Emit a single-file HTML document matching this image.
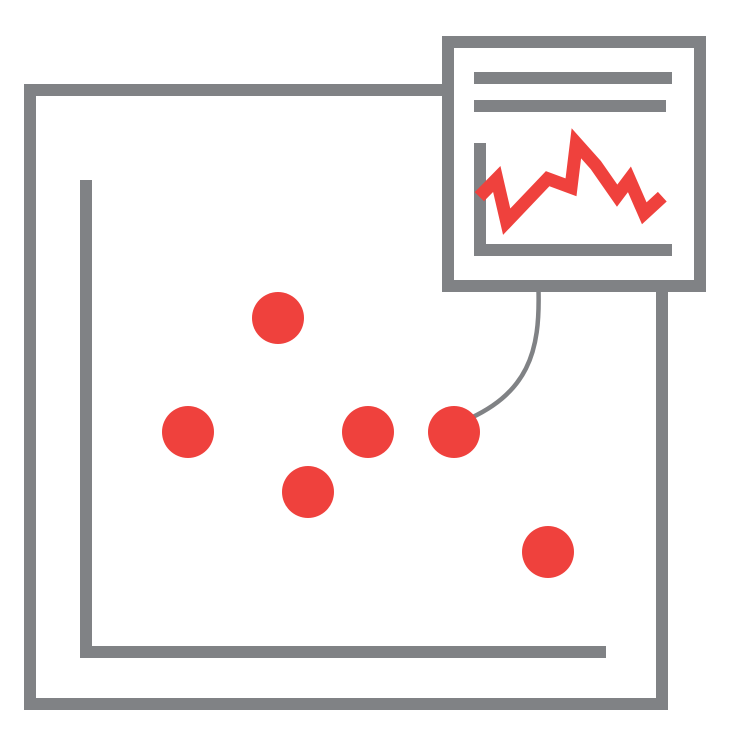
<!DOCTYPE html>
<html lang="en">
<head>
<meta charset="utf-8">
<title>Scatter plot with inset line chart icon</title>
<style>
  html, body { margin: 0; padding: 0; background: #ffffff; }
  body { width: 752px; height: 738px; overflow: hidden; }
  svg { display: block; }
</style>
</head>
<body>
<svg id="chart" xmlns="http://www.w3.org/2000/svg" width="752" height="738" viewBox="0 0 752 738">
  <rect x="30" y="90" width="632" height="614" fill="#ffffff" stroke="#808285" stroke-width="12"/>
  <path d="M86 180V652H606" fill="none" stroke="#808285" stroke-width="12"/>
  <path id="connector" fill="none" stroke="#808285" stroke-width="4.5"/>
  <g id="scatter-points"></g>
  <rect x="448" y="42" width="252" height="244" fill="#ffffff" stroke="#808285" stroke-width="12"/>
  <rect x="474" y="72" width="198" height="12" fill="#808285"/>
  <rect x="474" y="100" width="192" height="12" fill="#808285"/>
  <path d="M480 143V250H672" fill="none" stroke="#808285" stroke-width="12"/>
  <polyline id="inset-line" fill="none" stroke="#ef413d" stroke-width="13" stroke-linejoin="miter" stroke-miterlimit="10"/>
</svg>
<script>
const scatterX = [37.2, 19.2, 55.2, 72.4, 43.2, 91.2];
const scatterY = [65.6, 42.8, 42.8, 42.8, 30.8, 18.8];
const insetX = [2.7, 11.5, 16.5, 37.2, 49, 51.7, 61.5, 72.3, 78.5, 86, 95.1];
const insetY = [53.3, 71, 28.3, 71.3, 62.7, 106.7, 85, 54.3, 70.7, 36.7, 53.3];
const highlightedPoint = 3;

function scatterScaleX(v) { return 92 + v * 5; }
function scatterScaleY(v) { return 646 - v * 5; }
function insetScaleX(v) { return 474 + v * 1.98; }
function insetScaleY(v) { return 250 - v; }

const NS = 'http://www.w3.org/2000/svg';
const pointsGroup = document.getElementById('scatter-points');
scatterX.forEach(function (v, i) {
  const c = document.createElementNS(NS, 'circle');
  c.setAttribute('cx', scatterScaleX(v));
  c.setAttribute('cy', scatterScaleY(scatterY[i]));
  c.setAttribute('r', 26);
  c.setAttribute('fill', '#ef413d');
  
  
  pointsGroup.appendChild(c);
});

const hx = scatterScaleX(scatterX[highlightedPoint]);
const hy = scatterScaleY(scatterY[highlightedPoint]);
document.getElementById('connector').setAttribute('d',
  'M538.5 290C540 350 ' + (hx + 76) + ' ' + (hy - 37) + ' ' + (hx + 5) + ' ' + (hy - 9));

document.getElementById('inset-line').setAttribute('points',
  insetX.map(function (v, i) {
    return insetScaleX(v) + ',' + insetScaleY(insetY[i]);
  }).join(' '));
</script>
</body>
</html>
